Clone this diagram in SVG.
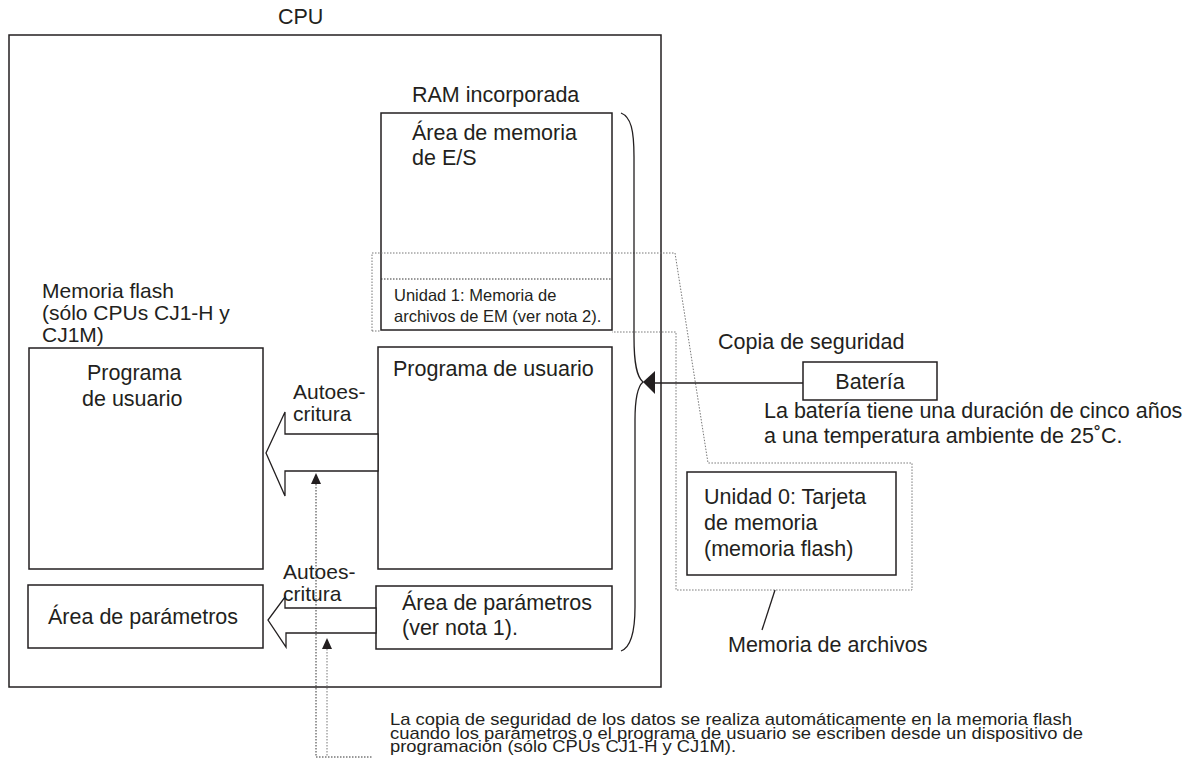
<svg xmlns="http://www.w3.org/2000/svg" width="1200" height="761" viewBox="0 0 1200 761">
<style>
text{font-family:"Liberation Sans",Arial,sans-serif;fill:#231f20}
.t{font-size:21.5px}
.f{font-size:21px}
.s{font-size:16.5px}
.n{font-size:17px}
.box{fill:none;stroke:#231f20;stroke-width:1.5}
.ln{fill:none;stroke:#231f20;stroke-width:1.3}
.dot{fill:none;stroke:#777;stroke-width:1;stroke-dasharray:1.5 1.5}
.dotk{fill:none;stroke:#333;stroke-width:1;stroke-dasharray:1.5 1.5}
.arr{fill:#fff;stroke:#231f20;stroke-width:1.3}
.hd{fill:#231f20}
</style>
<rect width="1200" height="761" fill="#fff"/>
<g id="cpu">
<rect class="box" x="9" y="35" width="652" height="652"/>
<text class="t" x="278" y="24">CPU</text>
</g>
<g id="ram">
<text class="t" x="412" y="102">RAM incorporada</text>
<rect class="box" x="381" y="113" width="231" height="217"/>
<text class="t" x="412" y="140">Área de memoria</text>
<text class="t" x="412" y="165">de E/S</text>
</g>
<g id="unidad1">
<line class="dotk" x1="381" y1="279" x2="612" y2="279"/>
<text class="s" x="394" y="301">Unidad 1: Memoria de</text>
<text class="s" x="394" y="322">archivos de EM (ver nota 2).</text>
</g>
<g id="flash-label">
<text class="f" x="42" y="298">Memoria flash</text>
<text class="f" x="42" y="320">(sólo CPUs CJ1-H y</text>
<text class="f" x="42" y="342">CJ1M)</text>
</g>
<g id="flash-programa">
<rect class="box" x="29" y="348" width="234" height="221"/>
<text class="t" x="87" y="380">Programa</text>
<text class="t" x="82" y="406">de usuario</text>
</g>
<g id="flash-parametros">
<rect class="box" x="28" y="585" width="235" height="63"/>
<text class="t" x="48" y="624">Área de parámetros</text>
</g>
<g id="ram-programa">
<rect class="box" x="378" y="347" width="234" height="222"/>
<text class="t" x="393" y="376">Programa de usuario</text>
</g>
<g id="ram-parametros">
<rect class="box" x="376" y="586" width="236" height="63"/>
<text class="t" x="402" y="610">Área de parámetros</text>
<text class="t" x="402" y="635">(ver nota 1).</text>
</g>
<g id="bateria">
<text class="t" x="718" y="349">Copia de seguridad</text>
<rect class="box" x="803" y="362" width="134" height="38"/>
<text class="t" x="870" y="389" text-anchor="middle">Batería</text>
<text class="t" x="764" y="418">La batería tiene una duración de cinco años</text>
<text class="t" x="764" y="443">a una temperatura ambiente de 25˚C.</text>
</g>
<g id="unidad0">
<rect class="box" x="687" y="472" width="209" height="103"/>
<text class="t" x="704" y="504">Unidad 0: Tarjeta</text>
<text class="t" x="704" y="530">de memoria</text>
<text class="t" x="704" y="556">(memoria flash)</text>
</g>
<g id="memoria-archivos">
<text class="t" x="728" y="652">Memoria de archivos</text>
</g>
<g id="nota">
<text class="n" x="390" y="725" textLength="682" lengthAdjust="spacingAndGlyphs">La copia de seguridad de los datos se realiza automáticamente en la memoria flash</text>
<text class="n" x="390" y="738.5" textLength="693" lengthAdjust="spacingAndGlyphs">cuando los parámetros o el programa de usuario se escriben desde un dispositivo de</text>
<text class="n" x="390" y="752" textLength="346" lengthAdjust="spacingAndGlyphs">programación (sólo CPUs CJ1-H y CJ1M).</text>
</g>
<g id="connectors">
<path class="dot" d="M372,331 V253 H675 L708,463 H912 V590 H676 V332 H612"/>
<line class="dot" x1="372" y1="331" x2="381" y2="331"/>
<path class="ln" d="M621,113 C631,117 634,130 634,157 M634,157 V337 C634,365 637,377 643,382 C637,387 635,400 635,420 V607 C635,635 629,648 621,651"/>
<line class="ln" x1="803" y1="383" x2="652" y2="383"/>
<polygon class="hd" points="643,382 655,371 655,394"/>
<line class="ln" x1="775" y1="590" x2="762" y2="630"/>
<polygon class="arr" points="378,434 285,434 285,412 266,453 285,496 285,471 378,471"/>
<polygon class="arr" points="376,608 285,608 285,597 268,620 286,647 286,633 376,633"/>
<text class="f" x="293" y="399">Autoes-</text>
<text class="f" x="293" y="421">critura</text>
<text class="f" x="283" y="579">Autoes-</text>
<text class="f" x="283" y="601">critura</text>
<path class="dotk" d="M316,484 V757 H372"/>
<polygon class="hd" points="316,473 321,484 311,484"/>
<line class="dot" x1="327" y1="649" x2="327" y2="757"/>
<polygon class="hd" points="327,638 332,649 322,649"/>
</g>
</svg>
